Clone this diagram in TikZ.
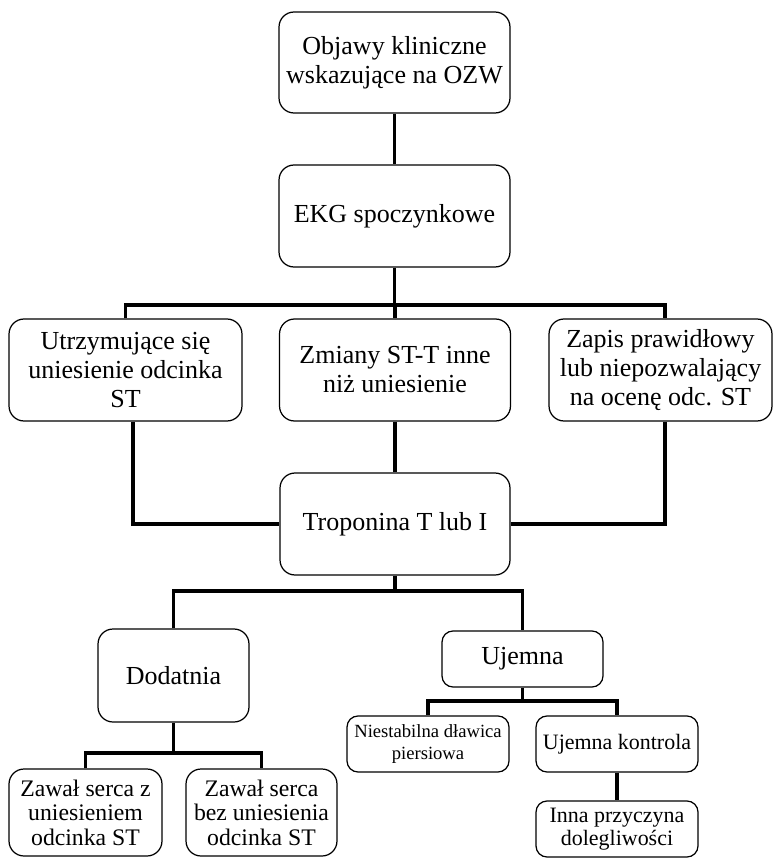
\documentclass[tikz,border=0pt]{standalone}
\usepackage{fontspec}
\setmainfont{Liberation Serif}
\begin{document}
\tikzset{
  box/.style={draw, line width=0.7pt, rounded corners=0.3cm, align=center, inner sep=0pt,
    font=\fontsize{14.8}{16.5}\selectfont},
  smallbox/.style={box, rounded corners=0.22cm, font=\fontsize{12.5}{13}\selectfont},
  conn/.style={line width=1.8pt}
}
\begin{tikzpicture}[x=0.02cm,y=-0.02cm]
\useasboundingbox (0,0) rectangle (773,858);
\node[box, minimum width=4.62cm, minimum height=2.02cm] (objawy) at (394.5,62.5) {Objawy kliniczne\\wskazujące na OZW};
\node[box, minimum width=4.62cm, minimum height=2.04cm] (ekg) at (394.5,216) {EKG spoczynkowe};
\node[box, minimum width=4.66cm, minimum height=2.04cm] (utrz) at (125.5,370) {Utrzymujące się\\uniesienie odcinka\\ST};
\node[box, minimum width=4.62cm, minimum height=2.04cm] (zmiany) at (395,370) {Zmiany ST-T inne\\niż uniesienie};
\node[box, minimum width=4.46cm, minimum height=2.04cm] (zapis) at (660.5,370) {Zapis prawidłowy\\lub niepozwalający\\na ocenę odc. ST};
\node[box, minimum width=4.6cm, minimum height=2.04cm] (tropo) at (395,524) {Troponina T lub I};
\node[box, minimum width=3.02cm, minimum height=1.86cm] (dod) at (173.5,675.5) {Dodatnia};
\node[smallbox, font=\fontsize{14.8}{16.5}\selectfont, minimum width=3.22cm, minimum height=1.12cm] (uje) at (522.5,659) {Ujemna};
\node[box, font=\fontsize{13.5}{14}\selectfont, minimum width=3.06cm, minimum height=1.74cm] (zaw1) at (85.5,812.5) {Zawał serca z\\uniesieniem\\odcinka ST};
\node[box, font=\fontsize{13.5}{14}\selectfont, minimum width=3.02cm, minimum height=1.74cm] (zaw2) at (261.5,812.5) {Zawał serca\\bez uniesienia\\odcinka ST};
\node[smallbox, font=\fontsize{10.6}{12}\selectfont, minimum width=3.24cm, minimum height=1.12cm] (niest) at (428,744) {Niestabilna dławica\\piersiowa};
\node[smallbox, minimum width=3.24cm, minimum height=1.12cm] (ujkon) at (617,744) {Ujemna kontrola};
\node[smallbox, minimum width=3.24cm, minimum height=1.12cm] (inna) at (617,829) {Inna przyczyna\\dolegliwości};
\coordinate (busA) at (0,305);
\coordinate (busB) at (0,591);
\coordinate (busC) at (0,753);
\coordinate (busD) at (0,701);
\coordinate (zapTop) at ([xshift=0.09cm]zapis.north);
\coordinate (zapBot) at ([xshift=0.09cm]zapis.south);
\coordinate (utrzBot) at ([xshift=0.15cm]utrz.south);
\draw[conn] (objawy) -- (ekg);
\draw[conn] (ekg.south) -- (ekg.south |- busA);
\draw[conn] (utrz.north) |- (busA -| zapTop) -- (zapTop);
\draw[conn] (zmiany.north) -- (zmiany.north |- busA);
\draw[conn] (zmiany) -- (tropo);
\draw[conn] (utrzBot) |- (tropo.west);
\draw[conn] (zapBot) |- (tropo.east);
\draw[conn] (tropo.south) -- (tropo.south |- busB);
\draw[conn] (dod.north) |- (busB -| uje.north) -- (uje.north);
\draw[conn] (dod.south) -- (dod.south |- busC);
\draw[conn] (zaw1.north) |- (busC -| zaw2.north) -- (zaw2.north);
\draw[conn] (uje.south) -- (uje.south |- busD);
\draw[conn] (niest.north) |- (busD -| ujkon.north) -- (ujkon.north);
\draw[conn] (ujkon) -- (inna);
\end{tikzpicture}
\end{document}
